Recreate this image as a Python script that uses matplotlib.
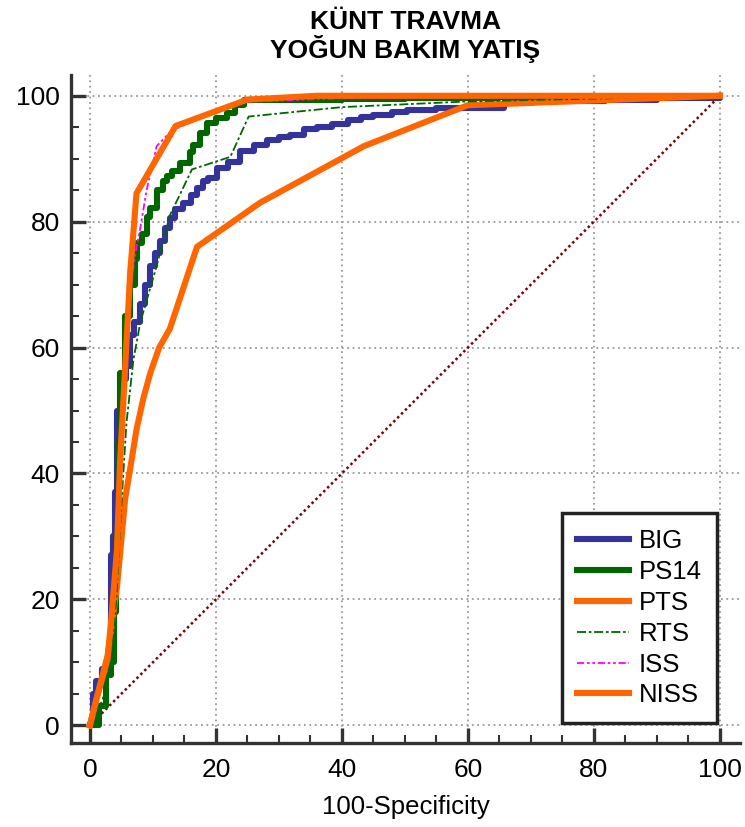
import matplotlib
matplotlib.use('Agg')
import matplotlib.pyplot as plt
from matplotlib.ticker import MultipleLocator

plt.rcParams['font.family'] = ['Liberation Sans', 'DejaVu Sans']

# ROC curves: 100-specificity (x) vs sensitivity (y)
big_x = [0, 0.5, 1.0, 2.0, 2.5, 3.0, 3.3, 3.7, 4.0, 4.3, 5.0, 5.8, 6.4, 7.0, 8.0, 8.8,
         9.6, 10.3, 11.1, 12.0, 12.7, 13.5, 14.8, 16.0, 17.0, 18.0, 18.8, 20.2, 22.0,
         23.9, 26.0, 28.1, 30.0, 31.8, 34.0, 36.1, 38.5, 40.9, 43.0, 45.0, 48.0, 50.4,
         55.0, 59.4, 65.8, 70.0, 81.7, 90.0, 100]
big_y = [0, 5, 7, 9, 10, 12, 27, 30, 37, 50, 55, 57, 62, 64, 67, 70,
         73, 75, 77, 79, 80.6, 82, 83, 84.3, 85.3, 86.5, 87, 88.6, 89.5,
         91.2, 92.2, 93, 93.5, 93.8, 94.8, 95.1, 95.5, 96.2, 96.6, 97, 97.5, 97.8,
         98, 98.1, 98.9, 99.2, 99.4, 99.7, 100]

ps14_x = [0, 1.5, 2.5, 3.3, 3.8, 4.2, 4.5, 4.8, 5.5, 6.3, 7.2, 7.4, 8.2, 9.0, 9.6,
          10.6, 11.6, 12.2, 13.0, 14.3, 15.9, 16.4, 17.5, 18.6, 20.0, 21.8, 23.0,
          24.4, 40, 50, 65, 100]
ps14_y = [0, 3, 8, 10, 18, 30, 45, 56, 65, 70, 74, 76.6, 78, 80.8, 82.2,
          85, 86.4, 87.2, 88, 89.3, 91, 92.2, 94.1, 95.7, 96.5, 97.3, 98.5,
          99.4, 99.5, 99.6, 99.8, 100]

pts_x = [0, 1, 2.8, 4.3, 5.6, 6.6, 7.4, 8.5, 9.6, 11, 12.7, 17, 27, 43.5, 60, 100]
pts_y = [0, 4, 11, 22, 36, 42, 47, 52, 56, 60, 63, 76, 83, 92, 98.5, 100]

rts_x = [0, 2, 3.3, 4.2, 5, 5.8, 6.9, 8, 10.6, 12.7, 16.2, 22.3, 25.2, 40, 60, 100]
rts_y = [0, 4, 10, 20, 35, 48, 58, 64, 73, 81, 88.3, 90.3, 96.7, 98.2, 99.1, 100]

iss_x = [0, 1, 2.8, 4, 4.8, 5.5, 6.5, 7.4, 8, 9, 10.6, 13, 20, 24, 40, 100]
iss_y = [0, 3, 10, 25, 42, 55, 70, 76, 79, 85, 92, 94.5, 97.5, 99, 99.6, 100]

niss_x = [0, 1, 2.8, 3.5, 4.3, 4.8, 5.5, 6.4, 7.4, 13.6, 25, 36, 100]
niss_y = [0, 4, 10.5, 18, 28, 42, 55, 72, 84.5, 95.2, 99.4, 100, 100]

fig = plt.figure(figsize=(7.45, 8.27), dpi=100)
ax = fig.add_axes([0.0953, 0.1017, 0.898, 0.8076])

# reference diagonal
ax.plot([0, 100], [0, 100], color='#800000', lw=1.8, linestyle=(0, (1, 1.2)), zorder=2)

ax.plot(big_x, big_y, color='#333399', lw=4.4, drawstyle='steps-post', label='BIG', zorder=3)
ax.plot(ps14_x, ps14_y, color='#006600', lw=4.4, drawstyle='steps-post', label='PS14', zorder=3)
ax.plot(pts_x, pts_y, color='#ff6600', lw=4.4, label='PTS', zorder=3)
ax.plot(rts_x, rts_y, color='#006600', lw=1.3, linestyle=(0, (5, 1.5, 1.5, 1.5)), label='RTS', zorder=4)
ax.plot(iss_x, iss_y, color='#ff00ff', lw=1.3, linestyle=(0, (4, 1.5, 1.5, 1.5, 1.5, 1.5)), label='ISS', zorder=4)
ax.plot(niss_x, niss_y, color='#ff6600', lw=4.4, label='NISS', zorder=5)

ax.set_xlim(-3, 103.2)
ax.set_ylim(-2.8, 103.3)
ax.xaxis.set_major_locator(MultipleLocator(20))
ax.yaxis.set_major_locator(MultipleLocator(20))
ax.xaxis.set_minor_locator(MultipleLocator(5))
ax.yaxis.set_minor_locator(MultipleLocator(5))
ax.grid(True, which='major', color='#999999', linestyle=(0, (1, 2)), lw=1.3)

for side in ['top', 'right']:
    ax.spines[side].set_visible(False)
for side in ['left', 'bottom']:
    ax.spines[side].set_color('#333333')
    ax.spines[side].set_linewidth(2.4)

ax.tick_params(which='major', direction='in', length=11, width=2.4, color='#333333',
               labelsize=19, pad=8)
ax.tick_params(axis='x', which='major', pad=11)
ax.tick_params(which='minor', direction='in', length=6, width=1.5, color='#333333')

ax.set_xlabel('100-Specificity', fontsize=18.5, labelpad=9)
ax.set_title('KÜNT TRAVMA\nYOĞUN BAKIM YATIŞ', fontsize=19, fontweight='bold',
             pad=12, linespacing=1.05)

leg = ax.legend(loc='lower right', bbox_to_anchor=(0.966, 0.030), borderaxespad=0,
                fontsize=18.5, handlelength=2.0, handletextpad=0.4, labelspacing=0.27,
                fancybox=False, framealpha=1, borderpad=0.6)
leg.get_frame().set_edgecolor('#222222')
leg.get_frame().set_linewidth(2.5)

plt.savefig('out.png', dpi=100)
